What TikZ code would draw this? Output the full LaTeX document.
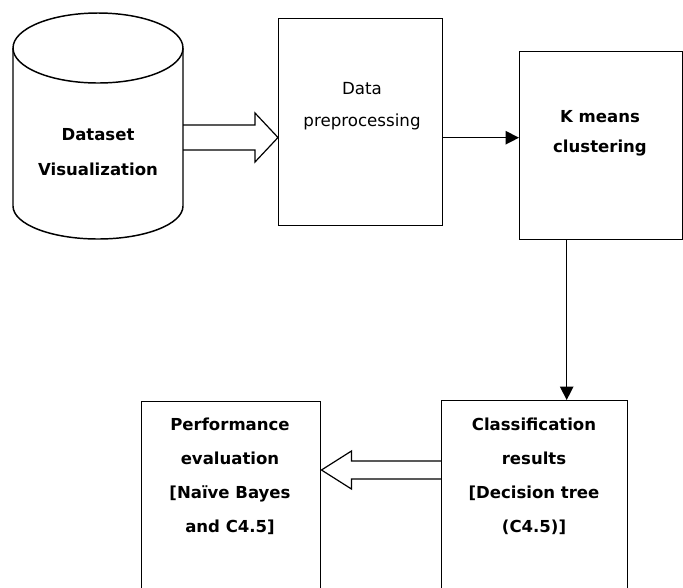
\documentclass[tikz,border=0pt]{standalone}
\usepackage{fontspec}
\setmainfont{DejaVu Sans}
\usetikzlibrary{arrows.meta,calc}
\begin{document}
\begin{tikzpicture}[x=0.75pt,y=-0.75pt,line width=1pt,
  box/.style={draw,line width=1.1pt,anchor=north west,inner sep=0pt},
  lbl/.style={align=center,inner sep=0pt,font=\fontsize{12.4}{25.5}\selectfont\bfseries},
  thinlbl/.style={align=center,inner sep=0pt,font=\fontsize{12.5}{24}\selectfont},
  arr/.style={-{Triangle[length=10pt,width=10pt]},line width=1pt},
  hollow/.style={draw,line width=0.9pt,line join=miter}]
\useasboundingbox (0,0) rectangle (683,587);
\clip (0,0) rectangle (683,587);

% cylinder
\draw[line width=1.1pt] (98,48) ellipse [x radius=85,y radius=35];
\draw[line width=1.1pt] (13,48) -- (13,206) arc[start angle=180,end angle=0,x radius=85,y radius=33] -- (183,48);
\coordinate (cyl-e) at (183,137.5);
\node[lbl,font=\fontsize{12.4}{26.25}\selectfont\bfseries] (t-cyl) at (98,152) {Dataset\\Visualization};

% boxes
\node[box,minimum width=123pt,minimum height=155.25pt] (pre) at (278,18) {};
\node[box,minimum width=122.25pt,minimum height=141pt] (km) at (519,51) {};
\node[box,minimum width=139.5pt,minimum height=157.5pt] (cls) at (441,400) {};
\node[box,minimum width=134.25pt,minimum height=157.5pt] (perf) at (141,401) {};

% labels
\node[thinlbl] (t-pre) at (362,106) {Data\\preprocessing};
\node[lbl,font=\fontsize{12.4}{22.5}\selectfont\bfseries] (t-km) at (600,133) {K means\\clustering};
\node[lbl] (t-cls) at (534,476) {Classification\\results\\{[}Decision tree\\(C4.5)]};
\node[lbl] (t-perf) at (230,476) {Performance\\evaluation\\{[}Naïve Bayes\\and C4.5]};

% thin arrows
\draw[arr] ([yshift=-11.6pt]pre.east) coordinate (a1) -- (a1 -| km.west);
\draw[arr] ([xshift=-25.9pt]km.south) coordinate (a2) -- (a2 |- cls.north);

% hollow arrow 1
\coordinate (h1t) at (pre.west |- cyl-e);
\draw[hollow] ($(cyl-e)+(0,-12.5)$) -- ($(h1t)+(-23,-12.5)$) -- ($(h1t)+(-23,-24.5)$) -- (h1t)
  -- ($(h1t)+(-23,24.5)$) -- ($(h1t)+(-23,12.5)$) -- ($(cyl-e)+(0,12.5)$);

% hollow arrow 2
\coordinate (h2s) at (cls.west |- 0,470);
\coordinate (h2t) at (perf.east |- 0,470);
\draw[hollow] ($(h2s)+(0,-9)$) -- ($(h2t)+(30,-9)$) -- ($(h2t)+(30,-19)$) -- (h2t)
  -- ($(h2t)+(30,19)$) -- ($(h2t)+(30,9)$) -- ($(h2s)+(0,9)$);
\end{tikzpicture}
\end{document}
